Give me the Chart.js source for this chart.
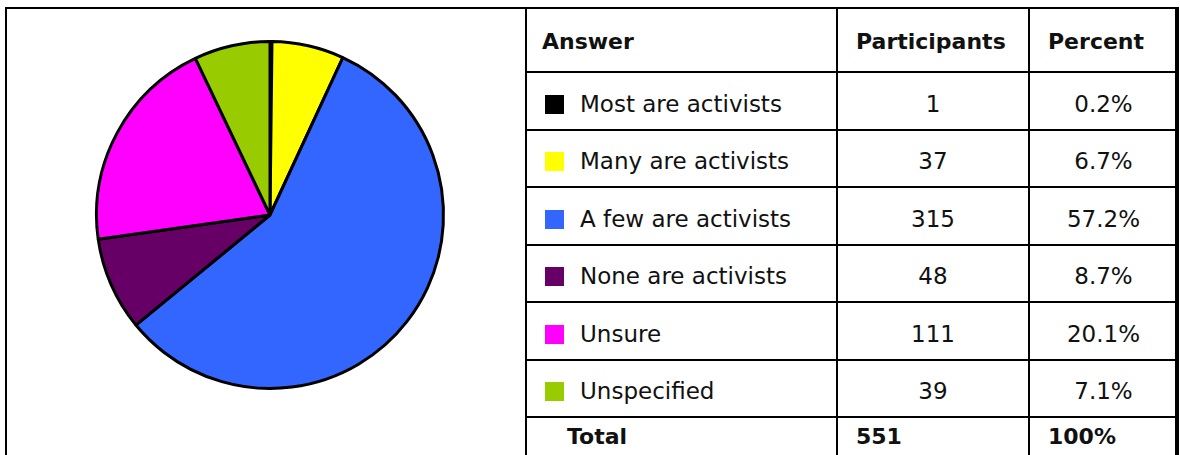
<!DOCTYPE html>
<html>
<head>
<meta charset="utf-8">
<script src="https://cdn.jsdelivr.net/npm/chart.js@4/dist/chart.umd.min.js"></script>
<style>
  html, body { margin: 0; padding: 0; background: #fff; }
  body { width: 1180px; height: 455px; overflow: hidden; position: relative; }
  #frame {
    position: absolute; left: 5px; top: 7px; width: 1168px; height: 470px;
    border: 2px solid #000;
  }
  #pieWrap { position: absolute; left: 90px; top: 35px; width: 360px; height: 360px; }
  #results {
    position: absolute; left: 525px; top: 7px; width: 652px;
    border-collapse: collapse; table-layout: fixed;
    font-family: "DejaVu Sans", sans-serif; font-size: 23px; color: #111;
  }
  #results td, #results th { border: 2px solid #000; padding: 0; vertical-align: middle; }
  #results th { font-weight: bold; font-size: 22px; text-align: left; padding-left: 18px; padding-top: 2px; }
  #results th:first-child { padding-left: 15px; }
  #results td { text-align: center; padding-top: 5px; }
  #results td.answer { text-align: left; padding-left: 18px; white-space: nowrap; }
  .swatch { display: inline-block; width: 19px; height: 19px; margin-right: 16px; vertical-align: -2px; }
  #results tr.total td { font-weight: bold; font-size: 22px; text-align: left; padding-left: 18px; vertical-align: top; padding-top: 6px; }
  #results tr.total td:first-child { padding-left: 40px; }
</style>
</head>
<body>
<div id="frame"></div>
<div id="pieWrap"><canvas id="pie" width="360" height="360"></canvas></div>
<table id="results">
  <colgroup><col style="width:311px"><col style="width:192px"><col style="width:149px"></colgroup>
  <thead><tr style="height:64px"><th>Answer</th><th>Participants</th><th>Percent</th></tr></thead>
  <tbody id="rows"></tbody>
</table>
<script>
const answers = ['Most are activists', 'Many are activists', 'A few are activists', 'None are activists', 'Unsure', 'Unspecified'];
const participants = [1, 37, 315, 48, 111, 39];
const colours = ['#000000', '#ffff00', '#3366ff', '#660066', '#ff00ff', '#99cc00'];
const rowHeights = [58, 57, 58, 57, 58, 57];

const total = participants.reduce((a, b) => a + b, 0);

// table: one row per answer, swatch doubles as the legend
const tbody = document.getElementById('rows');
answers.forEach((name, i) => {
  const tr = document.createElement('tr');
  tr.style.height = rowHeights[i] + 'px';
  const pct = (participants[i] / total * 100).toFixed(1) + '%';
  tr.innerHTML =
    '<td class="answer"><span class="swatch" style="background:' + colours[i] + '"></span>' + name + '</td>' +
    '<td>' + participants[i] + '</td>' +
    '<td>' + pct + '</td>';
  tbody.appendChild(tr);
});
const totalRow = document.createElement('tr');
totalRow.className = 'total';
totalRow.style.height = '60px';
totalRow.innerHTML = '<td>Total</td><td>' + total + '</td><td>100%</td>';
tbody.appendChild(totalRow);

const ctx = document.getElementById('pie');
new Chart(ctx, {
  type: 'pie',
  data: {
    labels: answers,
    datasets: [{
      data: participants,
      backgroundColor: colours,
      borderColor: '#000',
      borderWidth: 3
    }]
  },
  options: {
    responsive: false,
    animation: false,
    layout: { padding: 5 },
    plugins: {
      legend: { display: false },
      tooltip: { enabled: false }
    }
  }
});
</script>
</body>
</html>
